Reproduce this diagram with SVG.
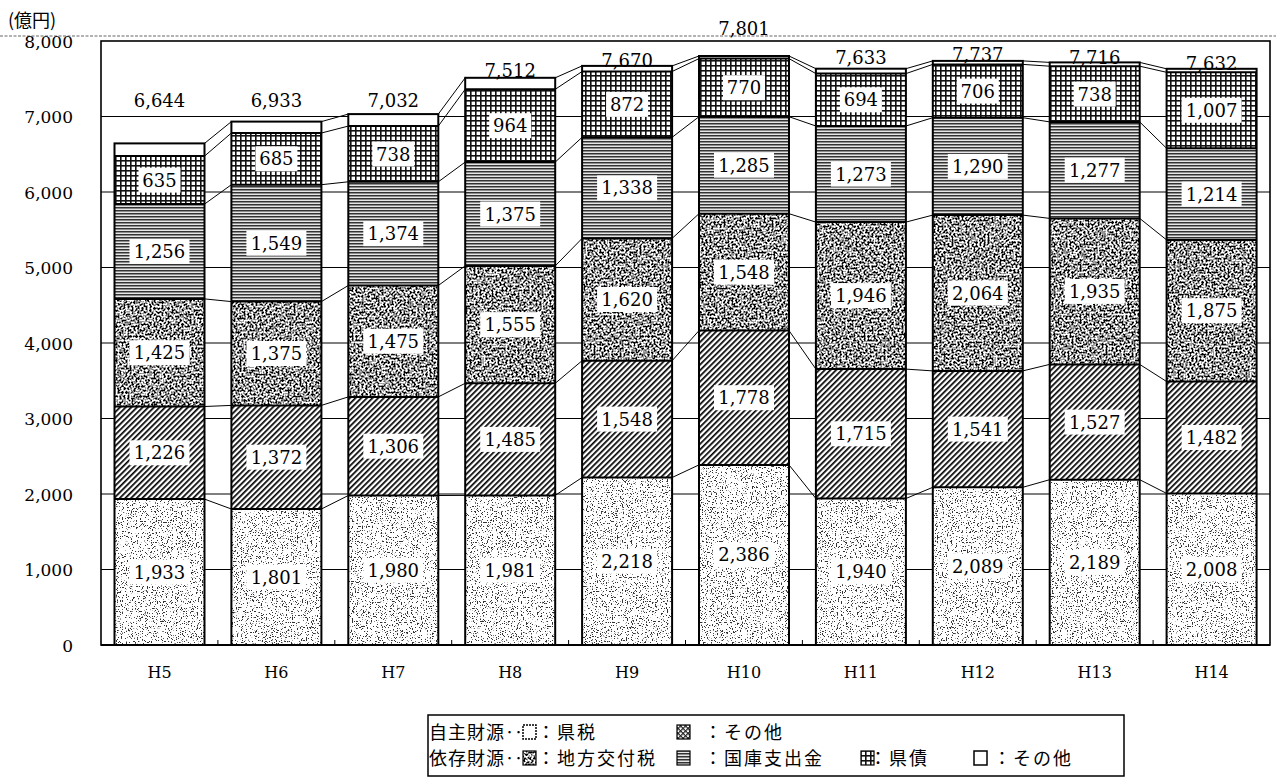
<svg xmlns="http://www.w3.org/2000/svg" width="1276" height="783" viewBox="0 0 1276 783">
<style>
.k1{fill:#fff;filter:url(#fStip)}
.k2{fill:url(#pHatch)}
.k3{fill:#888;filter:url(#fDark)}
.k4{fill:url(#pHoriz)}
.k5{fill:url(#pGrid)}
.k6{fill:#fff}
.o{fill:none;stroke:#000;stroke-width:2}
.lb{fill:#fff}
.n{font-family:"DejaVu Serif","Liberation Serif",serif;font-size:18px;text-anchor:middle;fill:#000}
.ax{font-family:"DejaVu Serif","Liberation Serif",serif;font-size:17px;text-anchor:end;fill:#000}
.xl{font-family:"DejaVu Serif","Liberation Serif",serif;font-size:16px;text-anchor:middle;fill:#000}
.lg{font-family:"Noto Sans CJK JP",sans-serif;font-size:18px;fill:#000;letter-spacing:1px}
.lc{font-family:"Noto Sans CJK JP",sans-serif;font-size:18px;fill:#000;letter-spacing:2px}
.grid{stroke:#000;stroke-width:1.2}
.conn path{fill:none;stroke:#000;stroke-width:1}
</style>
<defs>
<filter id="fStip" x="0" y="0" width="1" height="1" color-interpolation-filters="sRGB">
<feTurbulence type="fractalNoise" baseFrequency="0.8" numOctaves="2" seed="4"/>
<feColorMatrix type="matrix" values="0 0 0 0 0.2  0 0 0 0 0.2  0 0 0 0 0.2  -16 0 0 0 6.4"/>
<feComposite in2="SourceGraphic" operator="atop"/>
</filter>
<filter id="fDark" x="0" y="0" width="1" height="1" color-interpolation-filters="sRGB">
<feTurbulence type="fractalNoise" baseFrequency="0.5" numOctaves="2" seed="9"/>
<feColorMatrix type="matrix" values="5 0 0 0 -1.9  5 0 0 0 -1.9  5 0 0 0 -1.9  0 0 0 0 1"/>
</filter>
<pattern id="pHatch" width="4" height="4" patternUnits="userSpaceOnUse" patternTransform="rotate(45)">
<rect width="4" height="4" fill="#fff"/><rect width="1.7" height="4" fill="#000"/>
</pattern>
<pattern id="pHoriz" width="4" height="3" patternUnits="userSpaceOnUse">
<rect width="4" height="3" fill="#e6e6e6"/><rect width="4" height="1.5" fill="#333"/>
</pattern>
<pattern id="pGrid" width="5" height="5" patternUnits="userSpaceOnUse">
<rect width="5" height="5" fill="#fff"/><rect width="5" height="1.6" fill="#111"/><rect width="1.6" height="5" fill="#111"/>
</pattern>
<pattern id="pCross" width="3.5" height="3.5" patternUnits="userSpaceOnUse" patternTransform="rotate(45)">
<rect width="3.5" height="3.5" fill="#fff"/><rect width="1.2" height="3.5" fill="#222"/><rect width="3.5" height="1.2" fill="#222"/>
</pattern>
</defs>
<rect width="1276" height="783" fill="#fff"/>

<g id="axes">
<line x1="0" y1="36" x2="1276" y2="36" stroke="#666" stroke-width="1" stroke-dasharray="3,1.5"/>
<text x="8" y="27" style="font-family:'Noto Sans CJK JP',sans-serif;font-size:18px">(億円)</text>
<line class="grid" x1="101" y1="569.5" x2="1270" y2="569.5"/>
<line class="grid" x1="101" y1="494" x2="1270" y2="494"/>
<line class="grid" x1="101" y1="418.5" x2="1270" y2="418.5"/>
<line class="grid" x1="101" y1="343" x2="1270" y2="343"/>
<line class="grid" x1="101" y1="267.5" x2="1270" y2="267.5"/>
<line class="grid" x1="101" y1="192" x2="1270" y2="192"/>
<line class="grid" x1="101" y1="116.5" x2="1270" y2="116.5"/>
<rect x="101" y="41" width="1169" height="604" fill="none" stroke="#000" stroke-width="1.6"/>
<line x1="101" y1="645" x2="1270" y2="645" stroke="#000" stroke-width="2.2"/>
<path d="M217.9 645v-5M334.8 645v-5M451.7 645v-5M568.6 645v-5M685.5 645v-5M802.4 645v-5M919.3 645v-5M1036.2 645v-5M1153.1 645v-5" stroke="#000" stroke-width="1"/>
<text class="ax" x="73" y="48">8,000</text>
<text class="ax" x="73" y="123">7,000</text>
<text class="ax" x="73" y="198.5">6,000</text>
<text class="ax" x="73" y="274">5,000</text>
<text class="ax" x="73" y="349.5">4,000</text>
<text class="ax" x="73" y="425">3,000</text>
<text class="ax" x="73" y="500.5">2,000</text>
<text class="ax" x="73" y="576">1,000</text>
<text class="ax" x="73" y="651.5">0</text>
<text class="xl" x="159.5" y="678">H5</text>
<text class="xl" x="276.4" y="678">H6</text>
<text class="xl" x="393.3" y="678">H7</text>
<text class="xl" x="510.2" y="678">H8</text>
<text class="xl" x="627.1" y="678">H9</text>
<text class="xl" x="744" y="678">H10</text>
<text class="xl" x="860.9" y="678">H11</text>
<text class="xl" x="977.8" y="678">H12</text>
<text class="xl" x="1094.7" y="678">H13</text>
<text class="xl" x="1211.6" y="678">H14</text>
</g>

<g id="connectors" class="conn">
<path d="M204.5,499.1L231.4,509M321.4,509L348.3,495.5M438.3,495.5L465.2,495.4M555.2,495.4L582.1,477.5M672.1,477.5L699,464.9M789,464.9L815.9,498.5M905.9,498.5L932.8,487.3M1022.8,487.3L1049.7,479.7M1139.7,479.7L1166.6,493.4"/>
<path d="M204.5,406.5L231.4,405.4M321.4,405.4L348.3,396.9M438.3,396.9L465.2,383.3M555.2,383.3L582.1,360.7M672.1,360.7L699,330.6M789,330.6L815.9,369.1M905.9,369.1L932.8,370.9M1022.8,370.9L1049.7,364.4M1139.7,364.4L1166.6,381.5"/>
<path d="M204.5,298.9L231.4,301.6M321.4,301.6L348.3,285.5M438.3,285.5L465.2,265.9M555.2,265.9L582.1,238.4M672.1,238.4L699,213.7M789,213.7L815.9,222.1M905.9,222.1L932.8,215.1M1022.8,215.1L1049.7,218.4M1139.7,218.4L1166.6,239.9"/>
<path d="M204.5,204.1L231.4,184.7M321.4,184.7L348.3,181.8M438.3,181.8L465.2,162.1M555.2,162.1L582.1,137.3M672.1,137.3L699,116.7M789,116.7L815.9,126M905.9,126L932.8,117.7M1022.8,117.7L1049.7,121.9M1139.7,121.9L1166.6,148.3"/>
<path d="M204.5,156.1L231.4,133M321.4,133L348.3,126.1M438.3,126.1L465.2,89.3M555.2,89.3L582.1,71.5M672.1,71.5L699,58.6M789,58.6L815.9,73.6M905.9,73.6L932.8,64.4M1022.8,64.4L1049.7,66.2M1139.7,66.2L1166.6,72.3"/>
<path d="M204.5,143.4L231.4,121.6M321.4,121.6L348.3,114.1M438.3,114.1L465.2,77.8M555.2,77.8L582.1,65.9M672.1,65.9L699,56M789,56L815.9,68.7M905.9,68.7L932.8,60.9M1022.8,60.9L1049.7,62.4M1139.7,62.4L1166.6,68.8"/>
</g>

<g id="bar-H5">
<rect class="k1" x="114.5" y="499.1" width="90" height="145.9"/>
<rect class="k2" x="114.5" y="406.5" width="90" height="92.6"/>
<rect class="k3" x="114.5" y="298.9" width="90" height="107.6"/>
<rect class="k4" x="114.5" y="204.1" width="90" height="94.8"/>
<rect class="k5" x="114.5" y="156.1" width="90" height="48"/>
<rect class="k6" x="114.5" y="143.4" width="90" height="12.7"/>
<rect class="o" x="114.5" y="143.4" width="90" height="501.6"/>
<path class="o" d="M114.5 499.1h90M114.5 406.5h90M114.5 298.9h90M114.5 204.1h90M114.5 156.1h90"/>
<rect class="lb" x="129.5" y="559.5" width="60" height="25"/><text class="n" x="159.5" y="578.5">1,933</text>
<rect class="lb" x="129.5" y="440.3" width="60" height="25"/><text class="n" x="159.5" y="459.3">1,226</text>
<rect class="lb" x="129.5" y="340.2" width="60" height="25"/><text class="n" x="159.5" y="359.2">1,425</text>
<rect class="lb" x="129.5" y="239" width="60" height="25"/><text class="n" x="159.5" y="258">1,256</text>
<rect class="lb" x="138.5" y="167.6" width="42" height="25"/><text class="n" x="159.5" y="186.6">635</text>
<text class="n" x="159.5" y="106.5">6,644</text>
</g>

<g id="bar-H6">
<rect class="k1" x="231.4" y="509" width="90" height="136"/>
<rect class="k2" x="231.4" y="405.4" width="90" height="103.6"/>
<rect class="k3" x="231.4" y="301.6" width="90" height="103.8"/>
<rect class="k4" x="231.4" y="184.7" width="90" height="116.9"/>
<rect class="k5" x="231.4" y="133" width="90" height="51.7"/>
<rect class="k6" x="231.4" y="121.6" width="90" height="11.4"/>
<rect class="o" x="231.4" y="121.6" width="90" height="523.4"/>
<path class="o" d="M231.4 509h90M231.4 405.4h90M231.4 301.6h90M231.4 184.7h90M231.4 133h90"/>
<rect class="lb" x="246.4" y="564.5" width="60" height="25"/><text class="n" x="276.4" y="583.5">1,801</text>
<rect class="lb" x="246.4" y="444.7" width="60" height="25"/><text class="n" x="276.4" y="463.7">1,372</text>
<rect class="lb" x="246.4" y="341" width="60" height="25"/><text class="n" x="276.4" y="360">1,375</text>
<rect class="lb" x="246.4" y="230.7" width="60" height="25"/><text class="n" x="276.4" y="249.7">1,549</text>
<rect class="lb" x="255.4" y="146.3" width="42" height="25"/><text class="n" x="276.4" y="165.3">685</text>
<text class="n" x="276.4" y="106.5">6,933</text>
</g>

<g id="bar-H7">
<rect class="k1" x="348.3" y="495.5" width="90" height="149.5"/>
<rect class="k2" x="348.3" y="396.9" width="90" height="98.6"/>
<rect class="k3" x="348.3" y="285.5" width="90" height="111.4"/>
<rect class="k4" x="348.3" y="181.8" width="90" height="103.7"/>
<rect class="k5" x="348.3" y="126.1" width="90" height="55.7"/>
<rect class="k6" x="348.3" y="114.1" width="90" height="12"/>
<rect class="o" x="348.3" y="114.1" width="90" height="530.9"/>
<path class="o" d="M348.3 495.5h90M348.3 396.9h90M348.3 285.5h90M348.3 181.8h90M348.3 126.1h90"/>
<rect class="lb" x="363.3" y="557.8" width="60" height="25"/><text class="n" x="393.3" y="576.8">1,980</text>
<rect class="lb" x="363.3" y="433.7" width="60" height="25"/><text class="n" x="393.3" y="452.7">1,306</text>
<rect class="lb" x="363.3" y="328.7" width="60" height="25"/><text class="n" x="393.3" y="347.7">1,475</text>
<rect class="lb" x="363.3" y="221.2" width="60" height="25"/><text class="n" x="393.3" y="240.2">1,374</text>
<rect class="lb" x="372.3" y="141.5" width="42" height="25"/><text class="n" x="393.3" y="160.5">738</text>
<text class="n" x="393.3" y="106.5">7,032</text>
</g>

<g id="bar-H8">
<rect class="k1" x="465.2" y="495.4" width="90" height="149.6"/>
<rect class="k2" x="465.2" y="383.3" width="90" height="112.1"/>
<rect class="k3" x="465.2" y="265.9" width="90" height="117.4"/>
<rect class="k4" x="465.2" y="162.1" width="90" height="103.8"/>
<rect class="k5" x="465.2" y="89.3" width="90" height="72.8"/>
<rect class="k6" x="465.2" y="77.8" width="90" height="11.5"/>
<rect class="o" x="465.2" y="77.8" width="90" height="567.2"/>
<path class="o" d="M465.2 495.4h90M465.2 383.3h90M465.2 265.9h90M465.2 162.1h90M465.2 89.3h90"/>
<rect class="lb" x="480.2" y="557.7" width="60" height="25"/><text class="n" x="510.2" y="576.7">1,981</text>
<rect class="lb" x="480.2" y="426.9" width="60" height="25"/><text class="n" x="510.2" y="445.9">1,485</text>
<rect class="lb" x="480.2" y="312.1" width="60" height="25"/><text class="n" x="510.2" y="331.1">1,555</text>
<rect class="lb" x="480.2" y="201.5" width="60" height="25"/><text class="n" x="510.2" y="220.5">1,375</text>
<rect class="lb" x="489.2" y="113.2" width="42" height="25"/><text class="n" x="510.2" y="132.2">964</text>
<text class="n" x="510.2" y="76.5">7,512</text>
</g>

<g id="bar-H9">
<rect class="k1" x="582.1" y="477.5" width="90" height="167.5"/>
<rect class="k2" x="582.1" y="360.7" width="90" height="116.8"/>
<rect class="k3" x="582.1" y="238.4" width="90" height="122.3"/>
<rect class="k4" x="582.1" y="137.3" width="90" height="101.1"/>
<rect class="k5" x="582.1" y="71.5" width="90" height="65.8"/>
<rect class="k6" x="582.1" y="65.9" width="90" height="5.6"/>
<rect class="o" x="582.1" y="65.9" width="90" height="579.1"/>
<path class="o" d="M582.1 477.5h90M582.1 360.7h90M582.1 238.4h90M582.1 137.3h90M582.1 71.5h90"/>
<rect class="lb" x="597.1" y="548.8" width="60" height="25"/><text class="n" x="627.1" y="567.8">2,218</text>
<rect class="lb" x="597.1" y="406.6" width="60" height="25"/><text class="n" x="627.1" y="425.6">1,548</text>
<rect class="lb" x="597.1" y="287" width="60" height="25"/><text class="n" x="627.1" y="306">1,620</text>
<rect class="lb" x="597.1" y="175.4" width="60" height="25"/><text class="n" x="627.1" y="194.4">1,338</text>
<rect class="lb" x="606.1" y="91.9" width="42" height="25"/><text class="n" x="627.1" y="110.9">872</text>
<text class="n" x="627.1" y="66.5">7,670</text>
</g>

<g id="bar-H10">
<rect class="k1" x="699" y="464.9" width="90" height="180.1"/>
<rect class="k2" x="699" y="330.6" width="90" height="134.3"/>
<rect class="k3" x="699" y="213.7" width="90" height="116.9"/>
<rect class="k4" x="699" y="116.7" width="90" height="97"/>
<rect class="k5" x="699" y="58.6" width="90" height="58.1"/>
<rect class="k6" x="699" y="56" width="90" height="2.6"/>
<rect class="o" x="699" y="56" width="90" height="589"/>
<path class="o" d="M699 464.9h90M699 330.6h90M699 213.7h90M699 116.7h90M699 58.6h90"/>
<rect class="lb" x="714" y="542.4" width="60" height="25"/><text class="n" x="744" y="561.4">2,386</text>
<rect class="lb" x="714" y="385.2" width="60" height="25"/><text class="n" x="744" y="404.2">1,778</text>
<rect class="lb" x="714" y="259.7" width="60" height="25"/><text class="n" x="744" y="278.7">1,548</text>
<rect class="lb" x="714" y="152.7" width="60" height="25"/><text class="n" x="744" y="171.7">1,285</text>
<rect class="lb" x="723" y="75.2" width="42" height="25"/><text class="n" x="744" y="94.2">770</text>
<text class="n" x="744" y="34.5">7,801</text>
</g>

<g id="bar-H11">
<rect class="k1" x="815.9" y="498.5" width="90" height="146.5"/>
<rect class="k2" x="815.9" y="369.1" width="90" height="129.4"/>
<rect class="k3" x="815.9" y="222.1" width="90" height="147"/>
<rect class="k4" x="815.9" y="126" width="90" height="96.1"/>
<rect class="k5" x="815.9" y="73.6" width="90" height="52.4"/>
<rect class="k6" x="815.9" y="68.7" width="90" height="4.9"/>
<rect class="o" x="815.9" y="68.7" width="90" height="576.3"/>
<path class="o" d="M815.9 498.5h90M815.9 369.1h90M815.9 222.1h90M815.9 126h90M815.9 73.6h90"/>
<rect class="lb" x="830.9" y="559.3" width="60" height="25"/><text class="n" x="860.9" y="578.3">1,940</text>
<rect class="lb" x="830.9" y="421.3" width="60" height="25"/><text class="n" x="860.9" y="440.3">1,715</text>
<rect class="lb" x="830.9" y="283.1" width="60" height="25"/><text class="n" x="860.9" y="302.1">1,946</text>
<rect class="lb" x="830.9" y="161.6" width="60" height="25"/><text class="n" x="860.9" y="180.6">1,273</text>
<rect class="lb" x="839.9" y="87.3" width="42" height="25"/><text class="n" x="860.9" y="106.3">694</text>
<text class="n" x="860.9" y="63.5">7,633</text>
</g>

<g id="bar-H12">
<rect class="k1" x="932.8" y="487.3" width="90" height="157.7"/>
<rect class="k2" x="932.8" y="370.9" width="90" height="116.4"/>
<rect class="k3" x="932.8" y="215.1" width="90" height="155.8"/>
<rect class="k4" x="932.8" y="117.7" width="90" height="97.4"/>
<rect class="k5" x="932.8" y="64.4" width="90" height="53.3"/>
<rect class="k6" x="932.8" y="60.9" width="90" height="3.5"/>
<rect class="o" x="932.8" y="60.9" width="90" height="584.1"/>
<path class="o" d="M932.8 487.3h90M932.8 370.9h90M932.8 215.1h90M932.8 117.7h90M932.8 64.4h90"/>
<rect class="lb" x="947.8" y="553.6" width="60" height="25"/><text class="n" x="977.8" y="572.6">2,089</text>
<rect class="lb" x="947.8" y="416.6" width="60" height="25"/><text class="n" x="977.8" y="435.6">1,541</text>
<rect class="lb" x="947.8" y="280.5" width="60" height="25"/><text class="n" x="977.8" y="299.5">2,064</text>
<rect class="lb" x="947.8" y="153.9" width="60" height="25"/><text class="n" x="977.8" y="172.9">1,290</text>
<rect class="lb" x="956.8" y="78.6" width="42" height="25"/><text class="n" x="977.8" y="97.6">706</text>
<text class="n" x="977.8" y="60.5">7,737</text>
</g>

<g id="bar-H13">
<rect class="k1" x="1049.7" y="479.7" width="90" height="165.3"/>
<rect class="k2" x="1049.7" y="364.4" width="90" height="115.3"/>
<rect class="k3" x="1049.7" y="218.4" width="90" height="146"/>
<rect class="k4" x="1049.7" y="121.9" width="90" height="96.5"/>
<rect class="k5" x="1049.7" y="66.2" width="90" height="55.7"/>
<rect class="k6" x="1049.7" y="62.4" width="90" height="3.8"/>
<rect class="o" x="1049.7" y="62.4" width="90" height="582.6"/>
<path class="o" d="M1049.7 479.7h90M1049.7 364.4h90M1049.7 218.4h90M1049.7 121.9h90M1049.7 66.2h90"/>
<rect class="lb" x="1064.7" y="549.9" width="60" height="25"/><text class="n" x="1094.7" y="568.9">2,189</text>
<rect class="lb" x="1064.7" y="409.6" width="60" height="25"/><text class="n" x="1094.7" y="428.6">1,527</text>
<rect class="lb" x="1064.7" y="278.9" width="60" height="25"/><text class="n" x="1094.7" y="297.9">1,935</text>
<rect class="lb" x="1064.7" y="157.6" width="60" height="25"/><text class="n" x="1094.7" y="176.6">1,277</text>
<rect class="lb" x="1073.7" y="81.6" width="42" height="25"/><text class="n" x="1094.7" y="100.6">738</text>
<text class="n" x="1094.7" y="63.5">7,716</text>
</g>

<g id="bar-H14">
<rect class="k1" x="1166.6" y="493.4" width="90" height="151.6"/>
<rect class="k2" x="1166.6" y="381.5" width="90" height="111.9"/>
<rect class="k3" x="1166.6" y="239.9" width="90" height="141.6"/>
<rect class="k4" x="1166.6" y="148.3" width="90" height="91.6"/>
<rect class="k5" x="1166.6" y="72.3" width="90" height="76"/>
<rect class="k6" x="1166.6" y="68.8" width="90" height="3.5"/>
<rect class="o" x="1166.6" y="68.8" width="90" height="576.2"/>
<path class="o" d="M1166.6 493.4h90M1166.6 381.5h90M1166.6 239.9h90M1166.6 148.3h90M1166.6 72.3h90"/>
<rect class="lb" x="1181.6" y="556.7" width="60" height="25"/><text class="n" x="1211.6" y="575.7">2,008</text>
<rect class="lb" x="1181.6" y="425" width="60" height="25"/><text class="n" x="1211.6" y="444">1,482</text>
<rect class="lb" x="1181.6" y="298.2" width="60" height="25"/><text class="n" x="1211.6" y="317.2">1,875</text>
<rect class="lb" x="1181.6" y="181.6" width="60" height="25"/><text class="n" x="1211.6" y="200.6">1,214</text>
<rect class="lb" x="1181.6" y="97.8" width="60" height="25"/><text class="n" x="1211.6" y="116.8">1,007</text>
<text class="n" x="1211.6" y="69.5">7,632</text>
</g>

<g id="legend">
<rect x="428" y="715" width="696" height="61" fill="#fff" stroke="#000" stroke-width="1.5"/>
<text class="lg" x="429" y="739">自主財源‥</text>
<rect x="523" y="725" width="13" height="14" fill="#fff" stroke="#000" stroke-width="1.5" stroke-dasharray="2,1"/>
<text class="lc" x="537" y="739">：県税</text>
<rect x="677" y="725" width="13" height="14" fill="url(#pCross)" stroke="#000" stroke-width="1.2"/>
<text class="lc" x="704" y="739">：その他</text>
<text class="lg" x="429" y="765">依存財源‥</text>
<rect x="523" y="751" width="13" height="14" class="k3"/>
<rect x="523" y="751" width="13" height="14" fill="none" stroke="#000" stroke-width="1.2"/>
<text class="lc" x="537" y="765">：地方交付税</text>
<rect x="677" y="751" width="13" height="14" fill="url(#pHoriz)" stroke="#000" stroke-width="1.2"/>
<text class="lc" x="704" y="765">：国庫支出金</text>
<rect x="861" y="751" width="13" height="14" fill="url(#pGrid)" stroke="#000" stroke-width="1.2"/>
<text class="lc" x="869" y="765">：県債</text>
<rect x="974" y="751" width="13" height="14" fill="#fff" stroke="#000" stroke-width="1.5"/>
<text class="lc" x="993" y="765">：その他</text>
</g>
</svg>
